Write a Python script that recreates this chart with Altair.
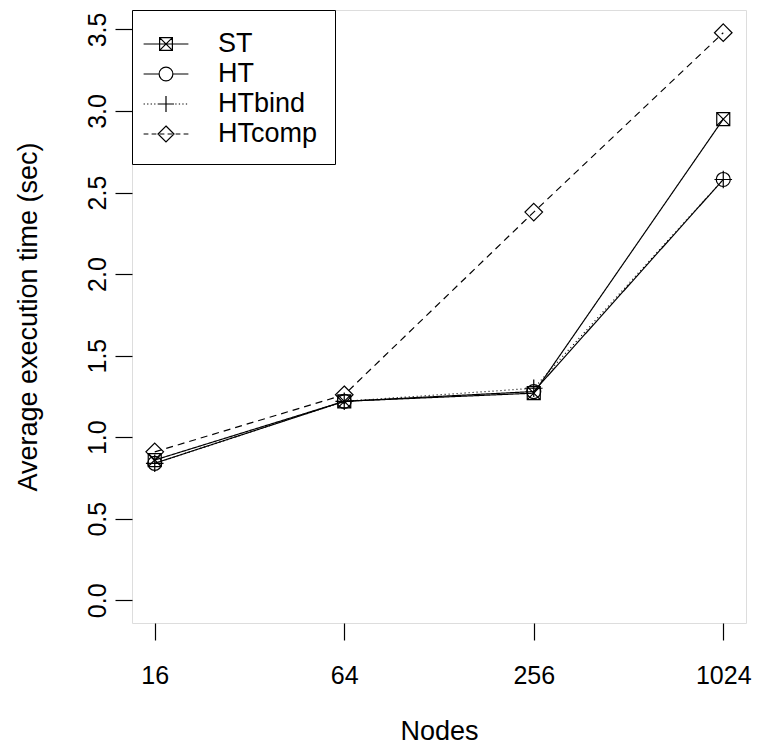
import math
import altair as alt
import pandas as pd

nodes = [16, 64, 256, 1024]
series = ["ST", "HT", "HTbind", "HTcomp"]
st = [0.86, 1.22, 1.27, 2.95]
ht = [0.84, 1.22, 1.28, 2.58]
htbind = [0.84, 1.22, 1.30, 2.58]
htcomp = [0.91, 1.26, 2.38, 3.48]
y_ticks = [0.0, 0.5, 1.0, 1.5, 2.0, 2.5, 3.0, 3.5]

rows = []
for name, vals in zip(series, [st, ht, htbind, htcomp]):
    for n, v in zip(nodes, vals):
        rows.append({"Nodes": n, "series": name, "value": v})
df = pd.DataFrame(rows)

FONT = "Liberation Sans"
FS = 27
FS_TICK = 25
W, H = 614, 613

# R-style 4% axis extension
lo, hi = math.log2(nodes[0]), math.log2(nodes[-1])
ext = 0.04 * (hi - lo)
x_dom = [2 ** (lo - ext), 2 ** (hi + ext)]
ymax = max(max(st), max(ht), max(htbind), max(htcomp))
y_dom = [-0.04 * ymax, ymax * 1.04]

# plot marker shapes (unit box ±1 -> sqrt(size)/2 px)
plot_shapes = [
    "M-0.65,-0.65H0.65V0.65H-0.65ZM-0.65,-0.65L0.65,0.65M0.65,-0.65L-0.65,0.65",
    "M0.7,0A0.7,0.7,0,1,1,-0.7,0A0.7,0.7,0,1,1,0.7,0Z",
    "M-0.88,0H0.88M0,-0.88V0.88",
    "M0,-0.88L0.88,0L0,0.88L-0.88,0Z",
]

def dots():
    s = ""
    x = -1.4
    while x < 1.4:
        s += "M%.2f,0H%.2f" % (x, x + 0.08)
        x += 0.22
    return s

def dashes():
    s = ""
    x = -1.4
    while x < 1.4:
        s += "M%.2f,0H%.2f" % (x, min(x + 0.3, 1.4))
        x += 0.5
    return s

legend_shapes = [
    "M-1.4,0H1.4M-0.4,-0.4H0.4V0.4H-0.4ZM-0.4,-0.4L0.4,0.4M0.4,-0.4L-0.4,0.4",
    "M-1.4,0H-0.43M0.43,0H1.4M0.43,0A0.43,0.43,0,1,1,-0.43,0A0.43,0.43,0,1,1,0.43,0Z",
    dots() + "M-0.5,0H0.5M0,-0.5V0.5",
    dashes() + "M0,-0.5L0.5,0L0,0.5L-0.5,0Z",
]

x_enc = alt.X(
    "Nodes:Q",
    scale=alt.Scale(type="log", base=2, domain=x_dom, nice=False, zero=False),
    axis=alt.Axis(
        values=nodes, format="d", title="Nodes", grid=False, domain=False,
        tickSize=17, tickColor="black", tickWidth=1.2, labelPadding=23,
        labelFontSize=FS_TICK, labelFont=FONT, labelColor="black",
        titleFontSize=FS, titleFont=FONT, titleFontWeight="normal", titleColor="black",
        titleY=108, titleBaseline="middle", labelFlush=False,
    ),
)
y_enc = alt.Y(
    "value:Q",
    scale=alt.Scale(domain=y_dom, nice=False, zero=False),
    axis=alt.Axis(
        values=y_ticks, format=".1f", title="Average execution time (sec)",
        grid=False, domain=False, tickSize=17, tickColor="black", tickWidth=1.2,
        labelAngle=270, labelAlign="center", labelBaseline="alphabetic", labelPadding=10,
        labelFontSize=FS_TICK, labelFont=FONT, labelColor="black",
        titleFontSize=FS, titleFont=FONT, titleFontWeight="normal", titleColor="black",
        titleAngle=270, titleX=-104, titleY=H / 2, titleAlign="center",
        titleBaseline="middle", labelFlush=False,
    ),
)

base = alt.Chart(df)

lines = base.mark_line(color="black", strokeWidth=1.2).encode(
    x=x_enc, y=y_enc,
    strokeDash=alt.StrokeDash(
        "series:N",
        scale=alt.Scale(domain=series, range=[[1, 0], [1, 0], [1, 3], [7, 5]]),
        legend=None,
    ),
    detail="series:N",
)

points = base.mark_point(filled=False, color="black", strokeWidth=1.2, size=400, opacity=1).encode(
    x=x_enc, y=y_enc,
    shape=alt.Shape("series:N", scale=alt.Scale(domain=series, range=plot_shapes), legend=None),
)

legend_layer = base.transform_filter("false").mark_point(
    filled=False, color="black", strokeWidth=1.2, size=1024, opacity=1
).encode(
    x=x_enc, y=y_enc,
    shape=alt.Shape(
        "series:N",
        scale=alt.Scale(domain=series, range=legend_shapes),
        legend=alt.Legend(
            title=None, orient="top-left", offset=0, padding=17,
            strokeColor="black", fillColor="white",
            labelFontSize=FS, labelFont=FONT, labelColor="black", labelOffset=35,
            symbolSize=1024, symbolStrokeWidth=1.2, symbolStrokeColor="black",
            symbolFillColor="transparent", symbolOpacity=1, rowPadding=0,
            labelLimit=300,
        ),
    ),
)

chart = alt.layer(lines, points, legend_layer).resolve_scale(
    shape="independent"
).properties(
    width=W, height=H,
    autosize=alt.AutoSizeParams(type="none"),
    padding={"left": 124, "top": 2, "right": 7, "bottom": 124},
).configure_view(stroke="black", strokeWidth=1.2).configure(background="white")

chart.save("out.html", embed_options={"renderer": "svg", "actions": False})
